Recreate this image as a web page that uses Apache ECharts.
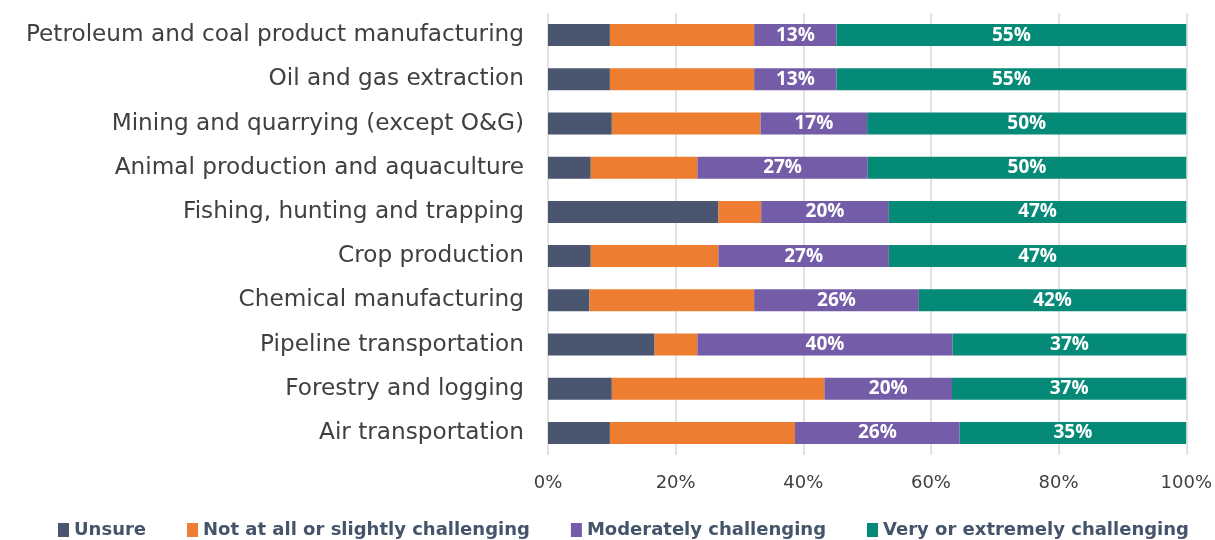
<!DOCTYPE html>
<html>
<head>
<meta charset="utf-8">
<script src="https://cdn.jsdelivr.net/npm/echarts@6/dist/echarts.min.js"></script>
<style>
  html, body { margin: 0; padding: 0; background: #fff; }
  #chart { width: 1215px; height: 540px; }
</style>
</head>
<body>
<div id="chart"></div>
<script>
var categories = ['Petroleum and coal product manufacturing', 'Oil and gas extraction',
    'Mining and quarrying (except O&G)', 'Animal production and aquaculture',
    'Fishing, hunting and trapping', 'Crop production', 'Chemical manufacturing',
    'Pipeline transportation', 'Forestry and logging', 'Air transportation'];
var unsure = [9.7, 9.7, 10.0, 6.7, 26.7, 6.7, 6.5, 16.7, 10.0, 9.7];
var notAtAll = [22.6, 22.6, 23.3, 16.7, 6.7, 20.0, 25.8, 6.7, 33.3, 29.0];
var moderately = [12.9, 12.9, 16.7, 26.7, 20.0, 26.7, 25.8, 40.0, 20.0, 25.8];
var veryExtremely = [54.8, 54.8, 50.0, 50.0, 46.7, 46.7, 41.9, 36.7, 36.7, 35.48];
var xTicks = [0, 20, 40, 60, 80, 100];

var myChart = echarts.init(document.getElementById('chart'));

var barLabel = {
    show: true,
    position: 'inside',
    color: '#fff',
    fontFamily: 'Open Sans',
    fontWeight: 'bold',
    fontSize: 19,
    formatter: function (p) { return Math.round(p.value) + '%'; }
};

var option = {
    animation: false,
    color: ['#4a5670', '#ed7d31', '#745ca8', '#068a78'],
    grid: { left: 548, right: 27, top: 13, bottom: 85 },
    legend: {
        top: 516,
        left: 53,
        itemWidth: 11,
        itemHeight: 14,
        itemGap: 41,
        icon: 'rect',
        textStyle: { color: '#44546a', fontFamily: 'DejaVu Sans', fontWeight: 'bold', fontSize: 18 },
        data: ['Unsure', 'Not at all or slightly challenging', 'Moderately challenging', 'Very or extremely challenging']
    },
    xAxis: {
        type: 'value',
        min: 0,
        max: 100,
        interval: 20,
        axisLine: { show: false },
        axisTick: { show: false },
        splitLine: { lineStyle: { color: '#d9d9d9', width: 1.5 } },
        axisLabel: {
            color: '#404040', fontFamily: 'DejaVu Sans', fontSize: 18, margin: 19,
            formatter: function (v) { return xTicks.indexOf(v) >= 0 ? v + '%' : ''; }
        }
    },
    yAxis: {
        type: 'category',
        inverse: true,
        data: categories,
        axisLine: { show: false },
        axisTick: { show: false },
        axisLabel: { color: '#404040', fontFamily: 'DejaVu Sans', fontSize: 23.2, margin: 24 }
    },
    series: [{
        name: 'Unsure', type: 'bar', stack: 'all', barWidth: 22, data: unsure
    }, {
        name: 'Not at all or slightly challenging', type: 'bar', stack: 'all', data: notAtAll
    }, {
        name: 'Moderately challenging', type: 'bar', stack: 'all', data: moderately, label: barLabel
    }, {
        name: 'Very or extremely challenging', type: 'bar', stack: 'all', data: veryExtremely, label: barLabel
    }]
};

myChart.setOption(option);
</script>
</body>
</html>
